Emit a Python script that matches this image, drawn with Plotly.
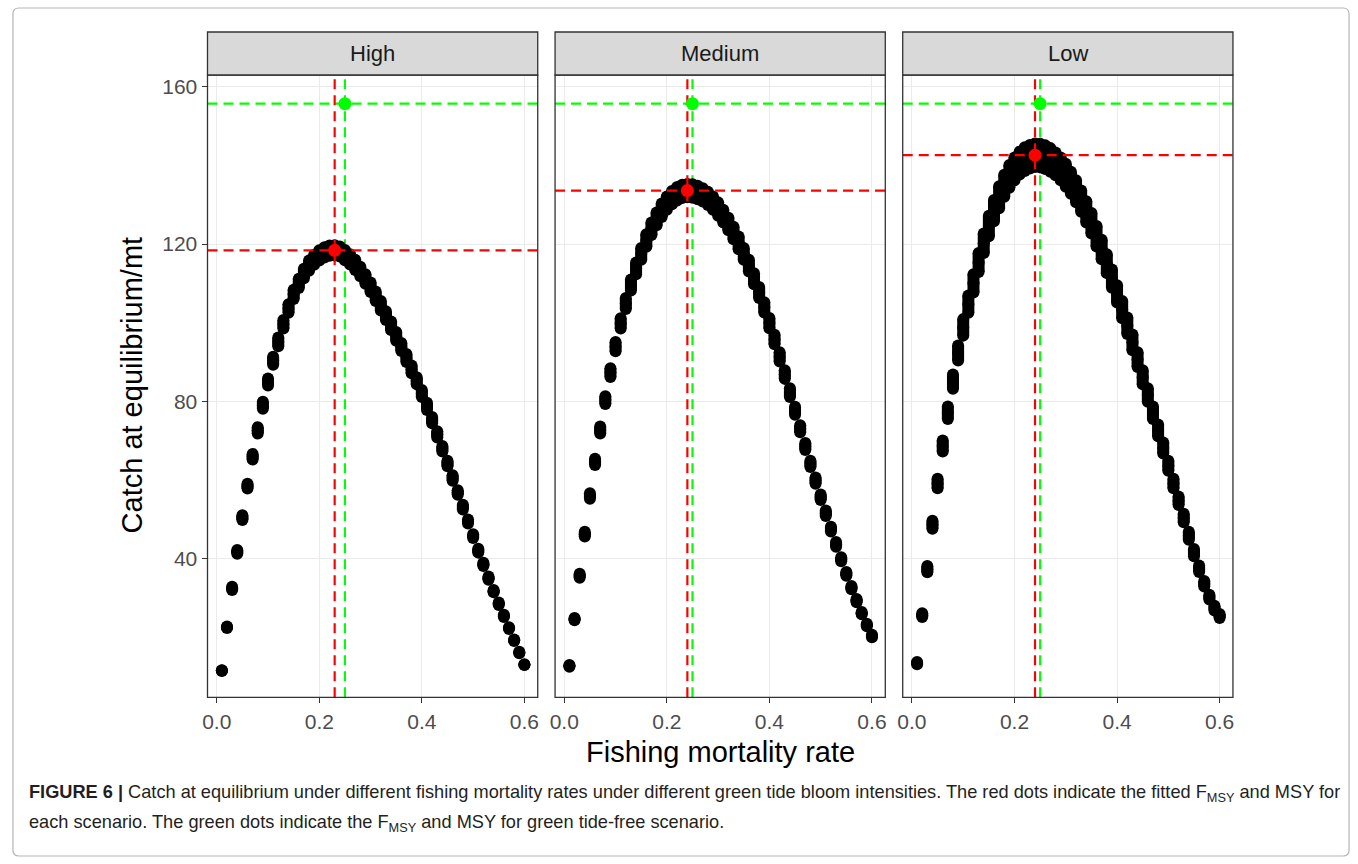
import plotly.graph_objects as go

# Fishing mortality grid (F) shared by all scenarios
fishing_rate = [0.01, 0.02, 0.03, 0.04, 0.05, 0.06, 0.07, 0.08, 0.09, 0.10,
                0.11, 0.12, 0.13, 0.14, 0.15, 0.16, 0.17, 0.18, 0.19, 0.20,
                0.21, 0.22, 0.23, 0.24, 0.25, 0.26, 0.27, 0.28, 0.29, 0.30,
                0.31, 0.32, 0.33, 0.34, 0.35, 0.36, 0.37, 0.38, 0.39, 0.40,
                0.41, 0.42, 0.43, 0.44, 0.45, 0.46, 0.47, 0.48, 0.49, 0.50,
                0.51, 0.52, 0.53, 0.54, 0.55, 0.56, 0.57, 0.58, 0.59, 0.60]

# Catch at equilibrium (mt) - high bloom intensity
catch_high = [11.5, 22.5, 32.4, 41.7, 50.4, 58.4, 65.9, 72.6, 79.0, 84.9,
              90.3, 95.1, 99.6, 103.6, 107.2, 110.0, 112.5, 114.5, 116.0, 117.1,
              117.9, 118.3, 118.4, 118.1, 117.2, 116.1, 114.7, 113.0, 111.1, 109.0,
              106.7, 104.3, 101.8, 99.2, 96.5, 93.8, 91.0, 88.1, 85.2, 82.0,
              78.7, 75.2, 71.6, 67.9, 64.2, 60.5, 56.8, 53.1, 49.4, 45.7,
              42.0, 38.5, 35.0, 31.7, 28.5, 25.4, 22.3, 19.2, 16.1, 13.0]
catch_high_lower = [11.4, 22.3, 32.0, 41.2, 49.8, 57.8, 65.2, 71.8, 78.1, 84.0,
                    89.3, 94.0, 98.5, 102.5, 106.0, 108.8, 111.3, 113.2, 114.7, 115.8,
                    116.6, 117.0, 117.1, 116.8, 115.9, 114.8, 113.4, 111.8, 109.9, 107.8,
                    105.5, 103.1, 100.7, 98.1, 95.4, 92.8, 90.0, 87.1, 84.3, 81.1,
                    77.8, 74.4, 70.8, 67.2, 63.5, 59.8, 56.2, 52.5, 48.9, 45.2,
                    41.5, 38.1, 34.6, 31.4, 28.2, 25.1, 22.1, 19.0, 15.9, 12.9]
catch_high_upper = [11.6, 22.7, 32.8, 42.2, 51.0, 59.0, 66.6, 73.4, 79.9, 85.8,
                    91.3, 96.2, 100.7, 104.7, 108.4, 111.2, 113.7, 115.8, 117.3, 118.4,
                    119.2, 119.6, 119.7, 119.4, 118.5, 117.4, 116.0, 114.2, 112.3, 110.2,
                    107.9, 105.5, 102.9, 100.3, 97.6, 94.8, 92.0, 89.1, 86.1, 82.9,
                    79.6, 76.0, 72.4, 68.6, 64.9, 61.2, 57.4, 53.7, 49.9, 46.2,
                    42.5, 38.9, 35.4, 32.0, 28.8, 25.7, 22.5, 19.4, 16.3, 13.1]

# Catch at equilibrium (mt) - medium bloom intensity
catch_medium = [12.7, 24.6, 35.6, 46.2, 55.9, 64.6, 72.7, 80.3, 87.3, 93.9,
                99.8, 104.9, 109.6, 113.8, 117.5, 120.9, 123.9, 126.4, 128.6, 130.4,
                131.8, 132.8, 133.4, 133.6, 133.5, 133.1, 132.5, 131.6, 130.4, 128.9,
                127.1, 125.1, 122.8, 120.3, 117.5, 114.5, 111.2, 107.7, 103.9, 99.9,
                95.7, 91.3, 86.8, 82.2, 77.6, 73.0, 68.5, 64.1, 59.8, 55.6,
                51.5, 47.5, 43.6, 39.8, 36.1, 32.6, 29.3, 26.1, 23.1, 20.3]
catch_medium_lower = [12.5, 24.3, 35.1, 45.6, 55.2, 63.8, 71.8, 79.3, 86.2, 92.7,
                      98.5, 103.5, 108.2, 112.3, 116.0, 119.3, 122.3, 124.8, 126.9, 128.7,
                      130.1, 131.1, 131.7, 131.9, 131.8, 131.4, 130.8, 129.9, 128.7, 127.2,
                      125.5, 123.5, 121.2, 118.7, 116.0, 113.0, 109.8, 106.3, 102.6, 98.6,
                      94.5, 90.1, 85.7, 81.1, 76.6, 72.1, 67.6, 63.3, 59.0, 54.9,
                      50.8, 46.9, 43.0, 39.3, 35.6, 32.2, 28.9, 25.8, 22.8, 20.0]
catch_medium_upper = [12.9, 24.9, 36.1, 46.8, 56.6, 65.4, 73.6, 81.3, 88.4, 95.1,
                      101.1, 106.3, 111.0, 115.3, 119.0, 122.5, 125.5, 128.0, 130.3, 132.1,
                      133.5, 134.5, 135.1, 135.3, 135.2, 134.8, 134.2, 133.3, 132.1, 130.6,
                      128.7, 126.7, 124.4, 121.9, 119.0, 116.0, 112.6, 109.1, 105.2, 101.2,
                      96.9, 92.5, 87.9, 83.3, 78.6, 73.9, 69.4, 64.9, 60.6, 56.3,
                      52.2, 48.1, 44.2, 40.3, 36.6, 33.0, 29.7, 26.4, 23.4, 20.6]

# Catch at equilibrium (mt) - low bloom intensity
catch_low = [13.4, 25.6, 37.3, 48.6, 59.1, 68.6, 77.1, 85.0, 92.3, 98.8,
             104.7, 110.0, 115.3, 120.2, 124.6, 128.5, 131.9, 134.8, 137.2, 139.1,
             140.6, 141.6, 142.2, 142.6, 142.5, 142.1, 141.4, 140.4, 139.1, 137.5,
             135.6, 133.4, 130.9, 128.2, 125.3, 122.0, 118.6, 115.0, 111.2, 107.3,
             103.3, 99.2, 95.0, 90.6, 86.1, 81.6, 77.1, 72.6, 68.1, 63.6,
             59.1, 54.7, 50.3, 45.8, 41.5, 37.4, 33.6, 30.2, 27.4, 25.4]
catch_low_lower = [13.1, 25.1, 36.5, 47.6, 57.9, 67.2, 75.5, 83.2, 90.4, 96.7,
                   102.5, 107.7, 112.9, 117.7, 122.0, 125.8, 129.1, 132.0, 134.3, 136.2,
                   137.7, 138.6, 139.2, 139.6, 139.5, 139.1, 138.4, 137.5, 136.2, 134.6,
                   132.8, 130.6, 128.2, 125.5, 122.7, 119.4, 116.1, 112.6, 108.9, 105.1,
                   101.1, 97.1, 93.0, 88.7, 84.3, 79.9, 75.5, 71.1, 66.7, 62.3,
                   57.9, 53.6, 49.2, 44.8, 40.6, 36.6, 32.9, 29.6, 26.8, 24.9]
catch_low_upper = [13.7, 26.1, 38.1, 49.6, 60.3, 70.0, 78.7, 86.8, 94.2, 100.9,
                   106.9, 112.3, 117.7, 122.7, 127.2, 131.2, 134.7, 137.6, 140.1, 142.0,
                   143.5, 144.6, 145.2, 145.6, 145.5, 145.1, 144.4, 143.3, 142.0, 140.4,
                   138.4, 136.2, 133.6, 130.9, 127.9, 124.6, 121.1, 117.4, 113.5, 109.5,
                   105.5, 101.3, 97.0, 92.5, 87.9, 83.3, 78.7, 74.1, 69.5, 64.9,
                   60.3, 55.8, 51.4, 46.8, 42.4, 38.2, 34.3, 30.8, 28.0, 25.9]

panels = ["High", "Medium", "Low"]
panel_lower = [catch_high_lower, catch_medium_lower, catch_low_lower]
panel_central = [catch_high, catch_medium, catch_low]
panel_upper = [catch_high_upper, catch_medium_upper, catch_low_upper]

# Fitted F_MSY / MSY per scenario, and the green-tide-free reference
fmsy_fitted = [0.23, 0.24, 0.24]
msy_fitted = [118.4, 133.6, 142.6]
fmsy_free = 0.25
msy_free = 155.7

x_ticks = [0.0, 0.2, 0.4, 0.6]
x_tick_text = ["0.0", "0.2", "0.4", "0.6"]
y_ticks = [40, 80, 120, 160]
y_tick_text = ["40", "80", "120", "160"]

# ---- layout geometry (pixels) ----
W, H = 1358, 864
panel_left = [203.4, 552.5, 901.7]
panel_w = 331.7
panel_top, panel_bottom = 75.0, 697.3
strip_top = 32.0
x_range = [-0.018, 0.626]
y_range = [4.7, 163.0]
DOT = 12

def px(xp):
    return xp / W

def py(yp):
    return 1 - yp / H

TEXT = "#1A1A1A"
TICK = "#4D4D4D"
BORDER = "#333333"
GRID = "#EBEBEB"
RED = "#FF0000"
GREEN = "#00FF00"
DASH = "10px,6px"

fig = go.Figure()
layout = dict(
    width=W, height=H,
    margin=dict(l=0, r=0, t=0, b=0),
    paper_bgcolor="white", plot_bgcolor="white",
    showlegend=False,
    font=dict(family="Liberation Sans, Arial, sans-serif", color=TEXT),
)

shapes = []
annotations = []

for i, name in enumerate(panels):
    sfx = "" if i == 0 else str(i + 1)
    xa, ya = "x" + sfx, "y" + sfx
    x0 = panel_left[i]
    x1 = x0 + panel_w
    layout["xaxis" + sfx] = dict(
        domain=[px(x0), px(x1)], range=x_range, anchor=ya,
        tickvals=x_ticks, ticktext=x_tick_text,
        ticks="outside", ticklen=5, tickwidth=1.1, tickcolor=BORDER,
        tickfont=dict(size=21, color=TICK),
        showgrid=True, gridcolor=GRID, gridwidth=1.3,
        zeroline=False, showline=False,
    )
    layout["yaxis" + sfx] = dict(
        domain=[py(panel_bottom), py(panel_top)], range=y_range, anchor=xa,
        tickvals=y_ticks, ticktext=y_tick_text,
        ticks="outside" if i == 0 else "", ticklen=5, tickwidth=1.1, tickcolor=BORDER,
        showticklabels=(i == 0),
        tickfont=dict(size=21, color=TICK),
        showgrid=True, gridcolor=GRID, gridwidth=1.3,
        zeroline=False, showline=False,
    )

    lo, mid, hi = panel_lower[i], panel_central[i], panel_upper[i]

    # green-tide-free reference lines sit underneath the catch points
    fig.add_trace(go.Scatter(x=[fmsy_free, fmsy_free], y=y_range, xaxis=xa, yaxis=ya,
                             mode="lines", line=dict(color=GREEN, width=2.2, dash=DASH),
                             hoverinfo="skip"))
    fig.add_trace(go.Scatter(x=x_range, y=[msy_free, msy_free], xaxis=xa, yaxis=ya,
                             mode="lines", line=dict(color=GREEN, width=2.2, dash=DASH),
                             hoverinfo="skip"))

    # catch at equilibrium: the runs at each F overlap into one vertical capsule
    fig.add_trace(go.Scatter(
        x=fishing_rate, y=mid, xaxis=xa, yaxis=ya, mode="markers",
        marker=dict(color="black", size=DOT, line=dict(width=0)),
        error_y=dict(type="data", symmetric=False,
                     array=[h - m for h, m in zip(hi, mid)],
                     arrayminus=[m - l for m, l in zip(mid, lo)],
                     thickness=DOT, width=0, color="black"),
        name=name,
    ))
    fig.add_trace(go.Scatter(
        x=fishing_rate * 2, y=lo + hi, xaxis=xa, yaxis=ya, mode="markers",
        marker=dict(color="black", size=DOT, line=dict(width=0)),
        hoverinfo="skip",
    ))

    # fitted F_MSY / MSY reference lines
    fig.add_trace(go.Scatter(x=[fmsy_fitted[i], fmsy_fitted[i]], y=y_range, xaxis=xa, yaxis=ya,
                             mode="lines", line=dict(color=RED, width=2.2, dash=DASH),
                             hoverinfo="skip"))
    fig.add_trace(go.Scatter(x=x_range, y=[msy_fitted[i], msy_fitted[i]], xaxis=xa, yaxis=ya,
                             mode="lines", line=dict(color=RED, width=2.2, dash=DASH),
                             hoverinfo="skip"))

    fig.add_trace(go.Scatter(x=[fmsy_fitted[i]], y=[msy_fitted[i]], xaxis=xa, yaxis=ya,
                             mode="markers", marker=dict(color=RED, size=13, line=dict(width=0))))
    fig.add_trace(go.Scatter(x=[fmsy_free], y=[msy_free], xaxis=xa, yaxis=ya,
                             mode="markers", marker=dict(color=GREEN, size=13, line=dict(width=0))))

    # panel border
    shapes.append(dict(type="rect", xref="paper", yref="paper",
                       x0=px(x0), x1=px(x1), y0=py(panel_bottom), y1=py(panel_top),
                       line=dict(color=BORDER, width=1.3), fillcolor="rgba(0,0,0,0)",
                       layer="above"))
    # facet strip
    shapes.append(dict(type="rect", xref="paper", yref="paper",
                       x0=px(x0), x1=px(x1), y0=py(panel_top), y1=py(strip_top),
                       line=dict(color=BORDER, width=1.3), fillcolor="#D9D9D9",
                       layer="above"))
    annotations.append(dict(text=name, xref="paper", yref="paper",
                            x=px((x0 + x1) / 2), y=py((strip_top + panel_top) / 2),
                            xanchor="center", yanchor="middle", showarrow=False,
                            font=dict(size=22, color=TEXT)))

# axis titles
annotations.append(dict(text="Fishing mortality rate", xref="paper", yref="paper",
                        x=px((panel_left[0] + panel_left[2] + panel_w) / 2), y=py(752),
                        xanchor="center", yanchor="middle", showarrow=False,
                        font=dict(size=29, color="black")))
annotations.append(dict(text="Catch at equilibrium/mt", xref="paper", yref="paper",
                        x=px(128), y=py(385), textangle=-90,
                        xanchor="center", yanchor="middle", showarrow=False,
                        font=dict(size=29, color="black")))

# caption
caption_1 = ("<b>FIGURE 6 |</b> Catch at equilibrium under different fishing mortality rates under "
             "different green tide bloom intensities. The red dots indicate the fitted "
             "F<sub>MSY</sub> and MSY for")
caption_2 = ("each scenario. The green dots indicate the F<sub>MSY</sub> and MSY for "
             "green tide-free scenario.")
annotations.append(dict(text=caption_1, xref="paper", yref="paper", x=px(22), y=py(793),
                        xanchor="left", yanchor="middle", showarrow=False, align="left",
                        font=dict(size=18.2, color="#231F20")))
annotations.append(dict(text=caption_2, xref="paper", yref="paper", x=px(22), y=py(823),
                        xanchor="left", yanchor="middle", showarrow=False, align="left",
                        font=dict(size=18.2, color="#231F20")))

# outer frame with rounded corners
fx0, fx1, fy0, fy1, r = px(8), px(1350), py(856), py(8), 6
rx, ry = r / W, r / H
frame = (f"M {fx0 + rx},{fy1} L {fx1 - rx},{fy1} Q {fx1},{fy1} {fx1},{fy1 - ry} "
         f"L {fx1},{fy0 + ry} Q {fx1},{fy0} {fx1 - rx},{fy0} "
         f"L {fx0 + rx},{fy0} Q {fx0},{fy0} {fx0},{fy0 + ry} "
         f"L {fx0},{fy1 - ry} Q {fx0},{fy1} {fx0 + rx},{fy1} Z")
shapes.append(dict(type="path", xref="paper", yref="paper", path=frame,
                   line=dict(color="#B5B5B5", width=1.2), layer="above"))

layout["shapes"] = shapes
layout["annotations"] = annotations
fig.update_layout(**layout)

fig.write_html("out.html")
